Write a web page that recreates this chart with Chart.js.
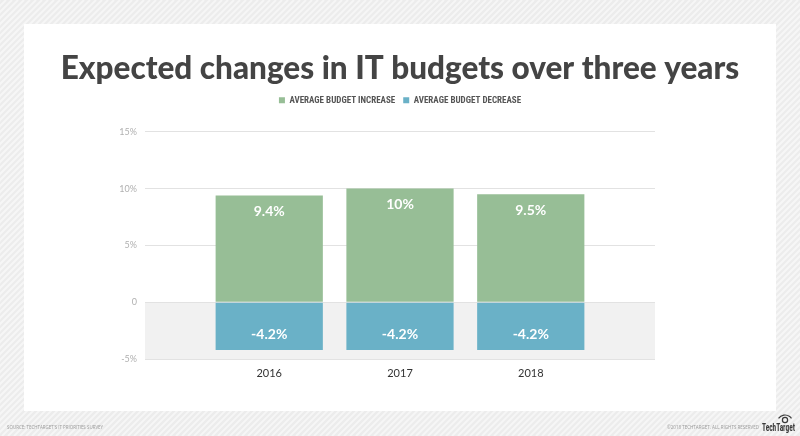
<!DOCTYPE html>
<html>
<head>
<meta charset="utf-8">
<script src="https://cdn.jsdelivr.net/npm/chart.js@4.4.1/dist/chart.umd.min.js"></script>
<style>
  html, body { margin: 0; padding: 0; background: #fff; }
  #wrap { width: 800px; height: 436px; position: relative; }
</style>
</head>
<body>
<div id="wrap"><canvas id="c" width="800" height="436"></canvas></div>
<script>
// ---- data ----
const years = [2016, 2017, 2018];
const increase = [9.4, 10, 9.5];
const decrease = [-4.2, -4.2, -4.2];
const seriesNames = ['AVERAGE BUDGET INCREASE', 'AVERAGE BUDGET DECREASE'];
const yTicks = [-5, 0, 5, 10, 15];
const titleText = 'Expected changes in IT budgets over three years';
const sourceText = "SOURCE: TECHTARGET'S IT PRIORITIES SURVEY";
const copyrightText = '\u00A92018 TECHTARGET. ALL RIGHTS RESERVED';
const logoText = 'TechTarget';

const GREEN = '#97be96';
const BLUE = '#6ab1c7';

// background: hatched frame, white card, grey band below zero
const backdrop = {
  id: 'backdrop',
  beforeDraw(chart) {
    const ctx = chart.ctx, W = chart.width, H = chart.height;
    ctx.save();
    ctx.fillStyle = '#ececec';
    ctx.fillRect(0, 0, W, H);
    ctx.strokeStyle = '#f6f6f6';
    ctx.lineWidth = 2;
    for (let k = -H; k < W + H; k += 6) {
      ctx.beginPath();
      ctx.moveTo(k, H);
      ctx.lineTo(k + H, 0);
      ctx.stroke();
    }
    ctx.fillStyle = '#ffffff';
    ctx.fillRect(24, 24, 752, 387);
    const a = chart.chartArea, y = chart.scales.y;
    ctx.fillStyle = '#f1f1f1';
    const y0 = y.getPixelForValue(0), y1 = y.getPixelForValue(yTicks[0]);
    ctx.fillRect(a.left, y0, a.right - a.left, y1 - y0);
    ctx.restore();
  }
};

function makeBox(position, size) {
  return {
    position, weight: 10, fullSize: false, options: {},
    top: 0, left: 0, right: 0, bottom: 0, width: 0, height: 0,
    isHorizontal() { return position === 'top' || position === 'bottom'; },
    update(maxWidth, maxHeight) {
      if (this.isHorizontal()) { this.width = maxWidth; this.height = size; }
      else { this.width = size; this.height = maxHeight; }
    },
    draw() {}
  };
}

// spacers: between legend and plot area, and to the right of the plot
const spacer = {
  id: 'spacer',
  beforeInit(chart) {
    Chart.layouts.addBox(chart, makeBox('top', 17));
    Chart.layouts.addBox(chart, makeBox('right', 145));
  }
};

// value labels inside bar ends
const valueLabels = {
  id: 'valueLabels',
  afterDatasetsDraw(chart) {
    const ctx = chart.ctx;
    ctx.save();
    ctx.fillStyle = '#ffffff';
    ctx.font = 'bold 14px Lato, "Open Sans", sans-serif';
    ctx.textAlign = 'center';
    ctx.textBaseline = 'middle';
    chart.data.datasets.forEach((ds, di) => {
      const meta = chart.getDatasetMeta(di);
      meta.data.forEach((el, i) => {
        const v = ds.data[i].y;
        const txt = v + '%';
        const yy = v >= 0 ? el.y + 16 : el.y - 15;
        ctx.fillText(txt, el.x, yy);
      });
    });
    ctx.restore();
  }
};

function fitText(ctx, text, x, y, width, align) {
  const tw = ctx.measureText(text).width;
  ctx.save();
  ctx.translate(align === 'right' ? x - width : x, y);
  ctx.scale(width / tw, 1);
  ctx.textAlign = 'left';
  ctx.fillText(text, 0, 0);
  ctx.restore();
}

// footer texts & logo
const footer = {
  id: 'footer',
  afterDraw(chart) {
    const ctx = chart.ctx;
    ctx.save();
    ctx.fillStyle = '#9a9a9a';
    ctx.font = '6px "Open Sans", sans-serif';
    ctx.textBaseline = 'middle';
    fitText(ctx, sourceText, 7, 427, 96, 'left');
    fitText(ctx, copyrightText, 759, 427, 92, 'right');
    ctx.fillStyle = '#3a3a3a';
    ctx.font = 'bold 10px "Liberation Sans Narrow", "Roboto Condensed", sans-serif';
    fitText(ctx, logoText, 762, 428, 33, 'left');
    // eye icon
    ctx.strokeStyle = '#3a3a3a';
    ctx.lineWidth = 1.2;
    ctx.beginPath();
    ctx.arc(785, 420, 2.6, 0, Math.PI * 2);
    ctx.stroke();
    ctx.beginPath();
    ctx.arc(785, 423, 8, Math.PI * 1.2, Math.PI * 1.8);
    ctx.stroke();
    ctx.restore();
  }
};

const datasets = [
  { label: seriesNames[0], data: years.map((x, i) => ({ x, y: increase[i] })), backgroundColor: GREEN },
  { label: seriesNames[1], data: years.map((x, i) => ({ x, y: decrease[i] })), backgroundColor: BLUE }
];

new Chart(document.getElementById('c'), {
  type: 'bar',
  data: { datasets },
  plugins: [backdrop, spacer, valueLabels, footer],
  options: {
    responsive: false,
    animation: false,
    devicePixelRatio: 1,
    layout: { padding: { left: 0, right: 0, top: 0, bottom: 47 } },
    datasets: { bar: { categoryPercentage: 1, barPercentage: 0.82, borderWidth: 0 } },
    scales: {
      x: {
        type: 'linear', stacked: true, offset: false,
        min: 2015.05, max: 2018.95,
        afterBuildTicks(s) { s.ticks = years.map(v => ({ value: v })); },
        afterFit(s) { s.height = 30; },
        grid: { display: false, drawTicks: false },
        border: { display: false },
        ticks: {
          padding: 8,
          color: '#333333',
          font: { family: 'Lato, "Open Sans", sans-serif', size: 11 },
          callback: v => String(v)
        }
      },
      y: {
        stacked: true,
        min: yTicks[0], max: yTicks[yTicks.length - 1],
        afterBuildTicks(s) { s.ticks = yTicks.map(v => ({ value: v })); },
        afterFit(s) { s.width = 145; },
        grid: { color: '#e2e2e2', lineWidth: 1, drawTicks: false },
        border: { display: false },
        ticks: {
          padding: 8,
          color: '#b0b0b0',
          font: { family: 'Lato, "Open Sans", sans-serif', size: 9 },
          callback: v => v === 0 ? '0' : v + '%'
        }
      }
    },
    plugins: {
      title: {
        display: true,
        text: titleText,
        color: '#444444',
        font: { family: 'Lato, "Open Sans", sans-serif', size: 31.5, weight: '900' },
        padding: { top: 50, bottom: 0 }
      },
      legend: {
        display: true,
        labels: {
          boxWidth: 6, boxHeight: 6, padding: 8,
          color: '#555555',
          font: { family: '"Liberation Sans Narrow", "Roboto Condensed", Lato, sans-serif', size: 9, weight: 'bold' }
        }
      },
      tooltip: { enabled: false }
    }
  }
});
</script>
</body>
</html>
